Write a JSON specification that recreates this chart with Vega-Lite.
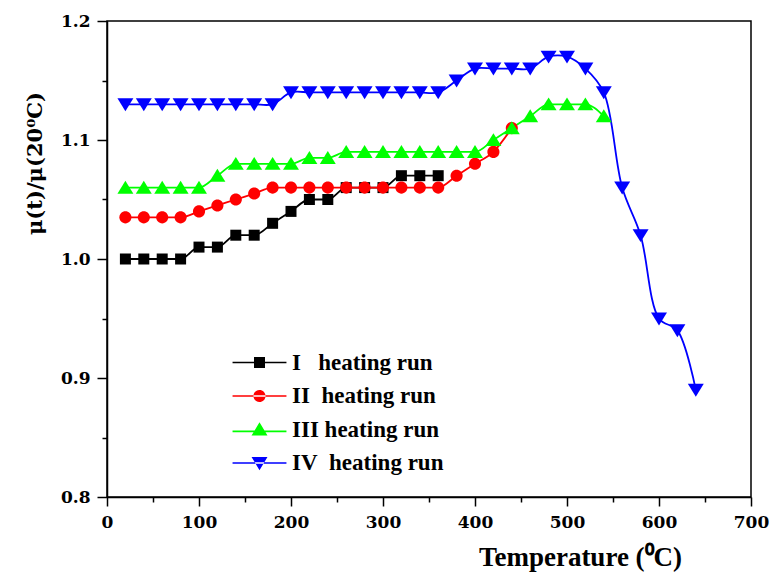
{
  "$schema": "https://vega.github.io/schema/vega-lite/v6.json",
  "width": 644,
  "height": 476,
  "autosize": {"type": "none"},
  "padding": {"left": 107, "top": 21, "right": 20, "bottom": 77},
  "background": "white",
  "config": {
    "view": {"stroke": "black", "strokeWidth": 1.5},
    "axis": {"grid": false, "domainColor": "black", "domainWidth": 1.5, "tickColor": "black", "tickWidth": 1.5, "labelColor": "black", "titleColor": "black"}
  },
  "datasets": {
    "runs": [
      {"run": "I   heating run", "T": 20, "mu": 1.0},
      {"run": "I   heating run", "T": 40, "mu": 1.0},
      {"run": "I   heating run", "T": 60, "mu": 1.0},
      {"run": "I   heating run", "T": 80, "mu": 1.0},
      {"run": "I   heating run", "T": 100, "mu": 1.01},
      {"run": "I   heating run", "T": 120, "mu": 1.01},
      {"run": "I   heating run", "T": 140, "mu": 1.02},
      {"run": "I   heating run", "T": 160, "mu": 1.02},
      {"run": "I   heating run", "T": 180, "mu": 1.03},
      {"run": "I   heating run", "T": 200, "mu": 1.04},
      {"run": "I   heating run", "T": 220, "mu": 1.05},
      {"run": "I   heating run", "T": 240, "mu": 1.05},
      {"run": "I   heating run", "T": 260, "mu": 1.06},
      {"run": "I   heating run", "T": 280, "mu": 1.06},
      {"run": "I   heating run", "T": 300, "mu": 1.06},
      {"run": "I   heating run", "T": 320, "mu": 1.07},
      {"run": "I   heating run", "T": 340, "mu": 1.07},
      {"run": "I   heating run", "T": 360, "mu": 1.07},
      {"run": "II  heating run", "T": 20, "mu": 1.035},
      {"run": "II  heating run", "T": 40, "mu": 1.035},
      {"run": "II  heating run", "T": 60, "mu": 1.035},
      {"run": "II  heating run", "T": 80, "mu": 1.035},
      {"run": "II  heating run", "T": 100, "mu": 1.04},
      {"run": "II  heating run", "T": 120, "mu": 1.045},
      {"run": "II  heating run", "T": 140, "mu": 1.05},
      {"run": "II  heating run", "T": 160, "mu": 1.055},
      {"run": "II  heating run", "T": 180, "mu": 1.06},
      {"run": "II  heating run", "T": 200, "mu": 1.06},
      {"run": "II  heating run", "T": 220, "mu": 1.06},
      {"run": "II  heating run", "T": 240, "mu": 1.06},
      {"run": "II  heating run", "T": 260, "mu": 1.06},
      {"run": "II  heating run", "T": 280, "mu": 1.06},
      {"run": "II  heating run", "T": 300, "mu": 1.06},
      {"run": "II  heating run", "T": 320, "mu": 1.06},
      {"run": "II  heating run", "T": 340, "mu": 1.06},
      {"run": "II  heating run", "T": 360, "mu": 1.06},
      {"run": "II  heating run", "T": 380, "mu": 1.07},
      {"run": "II  heating run", "T": 400, "mu": 1.08},
      {"run": "II  heating run", "T": 420, "mu": 1.09},
      {"run": "II  heating run", "T": 440, "mu": 1.11},
      {"run": "III heating run", "T": 20, "mu": 1.06},
      {"run": "III heating run", "T": 40, "mu": 1.06},
      {"run": "III heating run", "T": 60, "mu": 1.06},
      {"run": "III heating run", "T": 80, "mu": 1.06},
      {"run": "III heating run", "T": 100, "mu": 1.06},
      {"run": "III heating run", "T": 120, "mu": 1.07},
      {"run": "III heating run", "T": 140, "mu": 1.08},
      {"run": "III heating run", "T": 160, "mu": 1.08},
      {"run": "III heating run", "T": 180, "mu": 1.08},
      {"run": "III heating run", "T": 200, "mu": 1.08},
      {"run": "III heating run", "T": 220, "mu": 1.085},
      {"run": "III heating run", "T": 240, "mu": 1.085},
      {"run": "III heating run", "T": 260, "mu": 1.09},
      {"run": "III heating run", "T": 280, "mu": 1.09},
      {"run": "III heating run", "T": 300, "mu": 1.09},
      {"run": "III heating run", "T": 320, "mu": 1.09},
      {"run": "III heating run", "T": 340, "mu": 1.09},
      {"run": "III heating run", "T": 360, "mu": 1.09},
      {"run": "III heating run", "T": 380, "mu": 1.09},
      {"run": "III heating run", "T": 400, "mu": 1.09},
      {"run": "III heating run", "T": 420, "mu": 1.1},
      {"run": "III heating run", "T": 440, "mu": 1.11},
      {"run": "III heating run", "T": 460, "mu": 1.12},
      {"run": "III heating run", "T": 480, "mu": 1.13},
      {"run": "III heating run", "T": 500, "mu": 1.13},
      {"run": "III heating run", "T": 520, "mu": 1.13},
      {"run": "III heating run", "T": 540, "mu": 1.12},
      {"run": "IV  heating run", "T": 20, "mu": 1.13},
      {"run": "IV  heating run", "T": 40, "mu": 1.13},
      {"run": "IV  heating run", "T": 60, "mu": 1.13},
      {"run": "IV  heating run", "T": 80, "mu": 1.13},
      {"run": "IV  heating run", "T": 100, "mu": 1.13},
      {"run": "IV  heating run", "T": 120, "mu": 1.13},
      {"run": "IV  heating run", "T": 140, "mu": 1.13},
      {"run": "IV  heating run", "T": 160, "mu": 1.13},
      {"run": "IV  heating run", "T": 180, "mu": 1.13},
      {"run": "IV  heating run", "T": 200, "mu": 1.14},
      {"run": "IV  heating run", "T": 220, "mu": 1.14},
      {"run": "IV  heating run", "T": 240, "mu": 1.14},
      {"run": "IV  heating run", "T": 260, "mu": 1.14},
      {"run": "IV  heating run", "T": 280, "mu": 1.14},
      {"run": "IV  heating run", "T": 300, "mu": 1.14},
      {"run": "IV  heating run", "T": 320, "mu": 1.14},
      {"run": "IV  heating run", "T": 340, "mu": 1.14},
      {"run": "IV  heating run", "T": 360, "mu": 1.14},
      {"run": "IV  heating run", "T": 380, "mu": 1.15},
      {"run": "IV  heating run", "T": 400, "mu": 1.16},
      {"run": "IV  heating run", "T": 420, "mu": 1.16},
      {"run": "IV  heating run", "T": 440, "mu": 1.16},
      {"run": "IV  heating run", "T": 460, "mu": 1.16},
      {"run": "IV  heating run", "T": 480, "mu": 1.17},
      {"run": "IV  heating run", "T": 500, "mu": 1.17},
      {"run": "IV  heating run", "T": 520, "mu": 1.16},
      {"run": "IV  heating run", "T": 540, "mu": 1.14},
      {"run": "IV  heating run", "T": 560, "mu": 1.06},
      {"run": "IV  heating run", "T": 580, "mu": 1.02},
      {"run": "IV  heating run", "T": 600, "mu": 0.95},
      {"run": "IV  heating run", "T": 620, "mu": 0.94},
      {"run": "IV  heating run", "T": 640, "mu": 0.89}
    ]
  },
  "data": {"name": "runs"},
  "resolve": {"scale": {"color": "independent", "shape": "independent"}},
  "layer": [
    {
      "transform": [{"filter": "datum.run !== 'IV  heating run'"}],
      "mark": {"type": "line", "interpolate": "monotone", "strokeWidth": 1.8},
      "encoding": {
        "x": {
          "field": "T", "type": "quantitative",
          "scale": {"domain": [0, 700], "nice": false},
          "axis": {
            "values": [0,25,50,75,100,125,150,175,200,225,250,275,300,325,350,375,400,425,450,475,500,525,550,575,600,625,650,675,700],
            "labelExpr": "datum.value % 100 === 0 ? datum.label : ''",
            "tickSize": {"condition": {"test": "datum.value % 100 === 0", "value": 9}, "value": 5},
            "labelFont": "DejaVu Serif", "labelFontWeight": "bold", "labelFontSize": 17,
            "labelPadding": 8, "labelFlush": false, "labelOverlap": false,
            "title": "Temperature (⁰C)",
            "titleFont": "Liberation Serif", "titleFontWeight": "bold", "titleFontSize": 27,
            "titleX": 473, "titleY": 68, "titleAlign": "center", "titleBaseline": "alphabetic"
          }
        },
        "y": {
          "field": "mu", "type": "quantitative",
          "scale": {"domain": [0.8, 1.2], "nice": false, "zero": false},
          "axis": {
            "values": [0.8,0.85,0.9,0.95,1.0,1.05,1.1,1.15,1.2],
            "format": ".1f",
            "labelExpr": "round(datum.value * 100) % 10 === 0 ? datum.label : ''",
            "tickSize": {"condition": {"test": "round(datum.value * 100) % 10 === 0", "value": 10}, "value": 5},
            "labelFont": "DejaVu Serif", "labelFontWeight": "bold", "labelFontSize": 17,
            "labelPadding": 7, "labelFlush": false, "labelOverlap": false,
            "title": "μ(t)/μ(20⁰C)",
            "titleFont": "DejaVu Serif", "titleFontWeight": "bold", "titleFontSize": 21,
            "titleAngle": -90, "titleX": -72, "titleY": 142, "titleAlign": "center", "titleBaseline": "middle"
          }
        },
        "color": {
          "field": "run", "type": "nominal",
          "scale": {"domain": ["I   heating run", "II  heating run", "III heating run", "IV  heating run"], "range": ["#000000", "#ff0000", "#00ff00", "#0000ff"]},
          "legend": null
        }
      }
    },
    {
      "transform": [{"filter": "datum.run === 'IV  heating run'"}],
      "mark": {"type": "line", "interpolate": "catmull-rom", "strokeWidth": 1.8},
      "encoding": {
        "x": {"field": "T", "type": "quantitative"},
        "y": {"field": "mu", "type": "quantitative"},
        "color": {
          "field": "run", "type": "nominal",
          "scale": {"domain": ["I   heating run", "II  heating run", "III heating run", "IV  heating run"], "range": ["#000000", "#ff0000", "#00ff00", "#0000ff"]},
          "legend": null
        }
      }
    },
    {
      "mark": {"type": "point", "filled": true, "opacity": 1, "size": 121, "strokeWidth": 0},
      "encoding": {
        "x": {"field": "T", "type": "quantitative"},
        "y": {"field": "mu", "type": "quantitative"},
        "color": {
          "field": "run", "type": "nominal",
          "scale": {"domain": ["I   heating run", "II  heating run", "III heating run", "IV  heating run"], "range": ["#000000", "#ff0000", "#00ff00", "#0000ff"]},
          "legend": null
        },
        "shape": {
          "field": "run", "type": "nominal",
          "scale": {"domain": ["I   heating run", "II  heating run", "III heating run", "IV  heating run"], "range": [
            "M-1,-1H1V1H-1Z",
            "M-1.1,0A1.1,1.1 0 1,0 1.1,0A1.1,1.1 0 1,0 -1.1,0Z",
            "M0,-1.25L1.45,1.1L-1.45,1.1Z",
            "M0,1.25L1.45,-1.1L-1.45,-1.1Z"
          ]},
          "legend": null
        }
      }
    },
    {
      "transform": [{"filter": "datum.T < 0"}],
      "mark": {"type": "point", "filled": true, "opacity": 1},
      "encoding": {
        "x": {"field": "T", "type": "quantitative"},
        "y": {"field": "mu", "type": "quantitative"},
        "color": {
          "field": "run", "type": "nominal",
          "scale": {"domain": ["I   heating run", "II  heating run", "III heating run", "IV  heating run"], "range": ["#000000", "#ff0000", "#00ff00", "#0000ff"]},
          "legend": {
            "orient": "none", "legendX": 141, "legendY": 330, "title": null,
            "padding": 0, "symbolOffset": 0, "symbolSize": 121, "labelOffset": 21,
            "rowPadding": 9.5, "symbolStrokeWidth": 0,
            "labelFont": "Liberation Serif", "labelFontWeight": "bold", "labelFontSize": 23, "labelColor": "black",
            "labelExpr": "replace(datum.label, / /g, '\u00a0')"
          }
        },
        "shape": {
          "field": "run", "type": "nominal",
          "scale": {"domain": ["I   heating run", "II  heating run", "III heating run", "IV  heating run"], "range": [
            "M-4.9,-0.14H4.9V0.14H-4.9Z M-1,-1H1V1H-1Z",
            "M-4.9,-0.14H4.9V0.14H-4.9Z M-1.1,0A1.1,1.1 0 1,0 1.1,0A1.1,1.1 0 1,0 -1.1,0Z",
            "M-4.9,0.2H4.9V0.48H-4.9Z M0,-1.3L1.45,1.1L-1.45,1.1Z",
            "M-4.9,-0.14H4.9V0.14H-4.9Z M0,1.3L1.45,-1.1L-1.45,-1.1Z"
          ]},
          "legend": {
            "orient": "none", "legendX": 141, "legendY": 330, "title": null,
            "padding": 0, "symbolOffset": 0, "symbolSize": 121, "labelOffset": 21,
            "rowPadding": 9.5, "symbolStrokeWidth": 0,
            "labelFont": "Liberation Serif", "labelFontWeight": "bold", "labelFontSize": 23, "labelColor": "black",
            "labelExpr": "replace(datum.label, / /g, '\u00a0')"
          }
        }
      }
    }
  ]
}
